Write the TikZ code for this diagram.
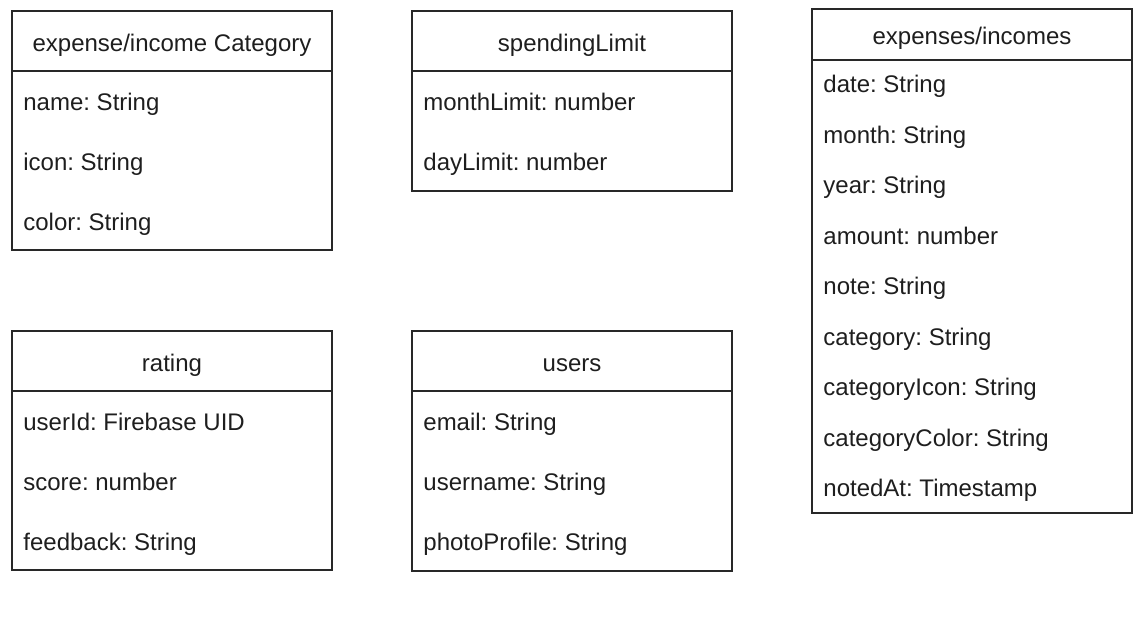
\documentclass[tikz,border=0pt]{standalone}
\usepackage{fontspec}
\setmainfont{Liberation Sans}
\usepackage{tikz}
\usetikzlibrary{calc}
\definecolor{umlline}{RGB}{40,40,40}
\definecolor{umltext}{RGB}{30,30,30}
\frenchspacing

\tikzset{
    classhead/.style={draw=umlline, line width=0.65pt, minimum width=160pt, minimum height=30pt,
        anchor=north west, inner sep=0pt, outer sep=0pt, text=umltext, text height=10pt, text depth=0pt,
        font=\fontsize{12}{14}\selectfont},
    classbody/.style={draw=umlline, line width=0.65pt, minimum width=160pt, anchor=north west,
        inner sep=0pt, outer sep=0pt},
    attr/.style={anchor=base west, inner sep=0pt, text=umltext, font=\fontsize{12}{14}\selectfont}
}

\begin{document}
\begin{tikzpicture}[x=1pt,y=-1pt]
    \useasboundingbox (0,0) rectangle (572,311);

    % expense/income Category
    \node[classhead] (cathead) at (6,5.5) {expense/income Category};
    \node[classbody, minimum height=89.5pt] (catbody) at (cathead.south west) {};
    \foreach \txt [count=\i] in {{name: String},{icon: String},{color: String}}
        \node[attr] (catattr\i) at ($(cathead.south west)+(5.5,19.5+30*\i-30)$) {\txt};

    % spendingLimit
    \node[classhead] (limhead) at (206,5.5) {spendingLimit};
    \node[classbody, minimum height=60pt] (limbody) at (limhead.south west) {};
    \foreach \txt [count=\i] in {{monthLimit: number},{dayLimit: number}}
        \node[attr] (limattr\i) at ($(limhead.south west)+(5.5,19.5+30*\i-30)$) {\txt};

    % expenses/incomes
    \node[classhead, minimum height=25.5pt] (exphead) at (406,4.5) {expenses/incomes};
    \node[classbody, minimum height=226.5pt] (expbody) at (exphead.south west) {};
    \foreach \txt [count=\i] in {{date: String},{month: String},{year: String},{amount: number},
        {note: String},{category: String},{categoryIcon: String},{categoryColor: String},
        {notedAt: Timestamp}}
        \node[attr] (expattr\i) at ($(exphead.south west)+(5.5,16.4+25.25*\i-25.25)$) {\txt};

    % rating
    \node[classhead] (ratehead) at (6,165.5) {rating};
    \node[classbody, minimum height=89.5pt] (ratebody) at (ratehead.south west) {};
    \foreach \txt [count=\i] in {{userId: Firebase UID},{score: number},{feedback: String}}
        \node[attr] (rateattr\i) at ($(ratehead.south west)+(5.5,19.5+30*\i-30)$) {\txt};

    % users
    \node[classhead] (userhead) at (206,165.5) {users};
    \node[classbody, minimum height=90pt] (userbody) at (userhead.south west) {};
    \foreach \txt [count=\i] in {{email: String},{username: String},{photoProfile: String}}
        \node[attr] (userattr\i) at ($(userhead.south west)+(5.5,19.5+30*\i-30)$) {\txt};
\end{tikzpicture}
\end{document}
